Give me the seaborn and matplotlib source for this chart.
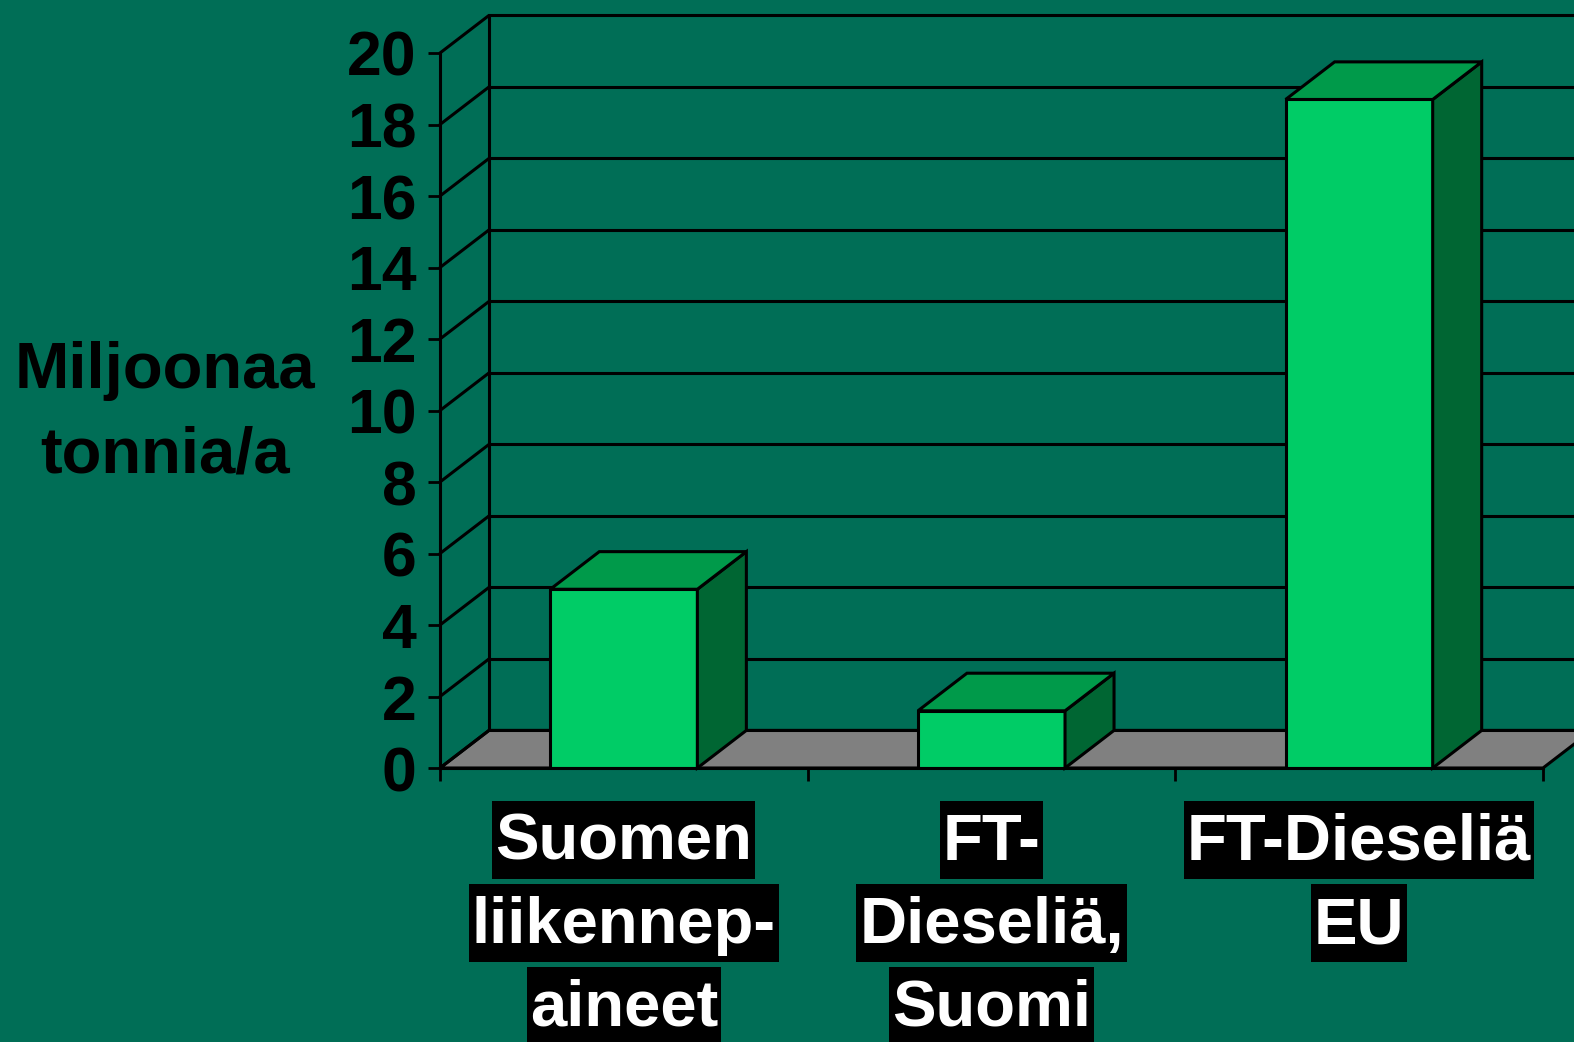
import matplotlib
matplotlib.use("Agg")
import matplotlib.pyplot as plt
import seaborn as sns
import pandas as pd
from matplotlib.patches import Polygon, Rectangle
from matplotlib.transforms import blended_transform_factory, IdentityTransform

categories = ["Suomen liikennep-aineet", "FT-Dieseliä, Suomi", "FT-Dieseliä EU"]
label_lines = [["Suomen", "liikennep-", "aineet"],
               ["FT-", "Dieseliä,", "Suomi"],
               ["FT-Dieseliä", "EU"]]
values = [5.0, 1.6, 18.7]
yticks = [0, 2, 4, 6, 8, 10, 12, 14, 16, 18, 20]
ylabel_lines = ["Miljoonaa", "tonnia/a"]

BG = "#006E56"
FRONT = "#00CC66"
TOP = "#009A4A"
SIDE = "#006633"
FLOOR = "#808080"

sns.set_theme(style="white")
plt.rcParams["font.family"] = ["Liberation Sans", "DejaVu Sans"]
plt.rcParams["font.weight"] = "bold"

W, H = 1574, 1042
AX_L, AX_R, AX_B, AX_T = 440, 1543, 768, 53
fig = plt.figure(figsize=(W / 100, H / 100), dpi=100, facecolor=BG)
ax = fig.add_axes([AX_L / W, 1 - AX_B / H, (AX_R - AX_L) / W, (AX_B - AX_T) / H])
ax.set_facecolor("none")

df = pd.DataFrame({"cat": categories, "val": values})
sns.barplot(data=df, x="cat", y="val", color=FRONT, width=0.4, saturation=1,
            edgecolor="black", linewidth=2.2, ax=ax, zorder=3)

ax.set_xlim(-0.5, 2.5)
ax.set_ylim(0, 20)

# depth offset in data units
DX = 49 * 3 / (AX_R - AX_L)
DY = 37.6 * 20 / (AX_B - AX_T)

lw = 2.2
floor = Polygon([(-0.5, 0), (2.5, 0), (2.5 + DX, DY), (-0.5 + DX, DY)], closed=True,
                facecolor=FLOOR, edgecolor="black", linewidth=lw, zorder=0.5, clip_on=False)
ax.add_patch(floor)
for v in yticks:
    ax.plot([-0.5 + DX, 3.2], [v + DY, v + DY], color="black", lw=lw, zorder=1, clip_on=False,
            solid_capstyle="butt")
    ax.plot([-0.5, -0.5 + DX], [v, v + DY], color="black", lw=lw, zorder=1, clip_on=False)
ax.plot([-0.5 + DX, -0.5 + DX], [DY, 20 + DY], color="black", lw=lw, zorder=1, clip_on=False)

for p in list(ax.patches):
    if p is floor:
        continue
    x0 = p.get_x()
    w = p.get_width()
    h = p.get_height()
    x1 = x0 + w
    top = Polygon([(x0, h), (x1, h), (x1 + DX, h + DY), (x0 + DX, h + DY)], closed=True,
                  facecolor=TOP, edgecolor="black", linewidth=lw, zorder=3, clip_on=False,
                  joinstyle="miter")
    side = Polygon([(x1, 0), (x1 + DX, DY), (x1 + DX, h + DY), (x1, h)], closed=True,
                   facecolor=SIDE, edgecolor="black", linewidth=lw, zorder=3, clip_on=False,
                   joinstyle="miter")
    ax.add_patch(side)
    ax.add_patch(top)

for s in ["top", "right"]:
    ax.spines[s].set_visible(False)
for s in ["left", "bottom"]:
    ax.spines[s].set_color("black")
    ax.spines[s].set_linewidth(lw)
    ax.spines[s].set_zorder(4)

ax.set_yticks(yticks)
ax.set_yticklabels([str(v) for v in yticks], fontsize=45, fontweight="bold", color="black")
ax.tick_params(axis="y", left=True, length=9, width=2, color="black", pad=8, direction="out")
ax.set_xticks([-0.5, 0.5, 1.5, 2.5], minor=True)
ax.set_xticks([0, 1, 2])
ax.set_xticklabels([])
ax.tick_params(axis="x", which="major", bottom=False, length=0)
ax.tick_params(axis="x", which="minor", bottom=True, length=9, width=2, color="black", direction="out")
ax.set_xlabel("")
ax.set_ylabel("")

# category labels: each line white on its own black box
trans = blended_transform_factory(ax.transData, fig.transFigure)
baselines = [860, 943, 1026]
label_texts = []
for i, lines in enumerate(label_lines):
    for j, line in enumerate(lines):
        t = ax.text(i, 1 - baselines[j] / H, line, transform=trans, ha="center", va="baseline",
                    fontsize=47, fontweight="bold", color="white", clip_on=False, zorder=6)
        label_texts.append((t, baselines[j]))

# y-axis title
for line, b in zip(ylabel_lines, [388, 472]):
    fig.text(165 / W, 1 - b / H, line, ha="center", va="baseline", fontsize=47,
             fontweight="bold", color="black")

fig.canvas.draw()
renderer = fig.canvas.get_renderer()
for t, b in label_texts:
    bb = t.get_window_extent(renderer)
    ybase = H - b
    rect = Rectangle((bb.x0 - 3, ybase - 19), bb.width + 6, 78, transform=IdentityTransform(),
                     facecolor="black", edgecolor="none", zorder=5, clip_on=False)
    ax.add_artist(rect)

fig.savefig("out.png", dpi=100, facecolor=BG)
